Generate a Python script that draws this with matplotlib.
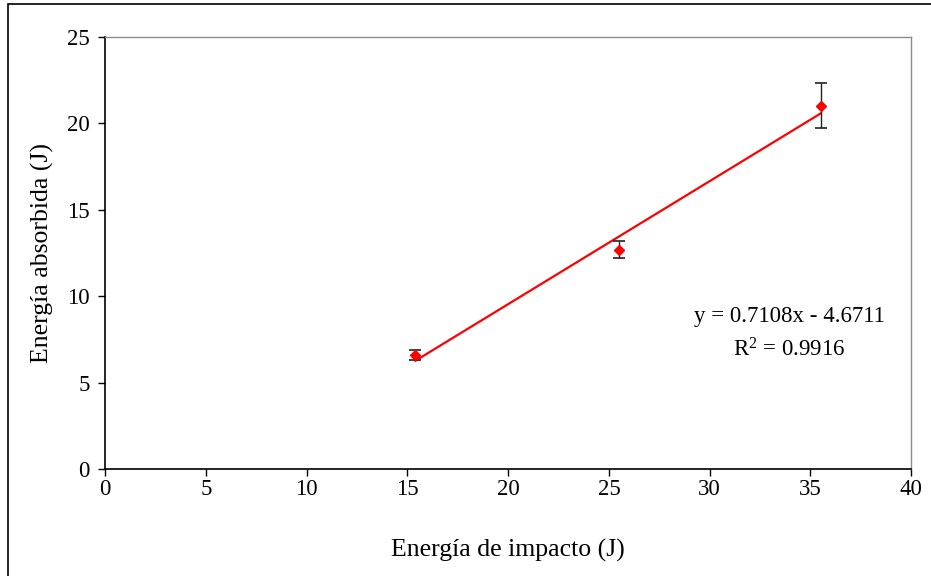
import numpy as np
import matplotlib.pyplot as plt
from matplotlib.patches import Rectangle

plt.rcParams['font.family'] = ['Liberation Serif', 'DejaVu Serif']

# impact energy, absorbed energy and error half-widths
impacto = [15.4, 25.5, 35.5]
absorbida = [6.6, 12.7, 21.0]
error = [0.3, 0.5, 1.3]

# trendline coefficients as printed on the chart
pendiente = 0.7108
ordenada = -4.6711
r2 = 0.9916

fig = plt.figure(figsize=(9.31, 5.76), dpi=100)
ax = fig.add_axes([0.1128, 0.1852, 0.866, 0.7511])

# outer chart border (extends past the image on the right and bottom)
fig.patches.append(Rectangle((8 / 931, -0.1), 1.2, 1.1 - 4 / 576,
                             transform=fig.transFigure, fill=False,
                             edgecolor='black', lw=1.2))

xt = np.array([impacto[0], impacto[-1]])
ax.plot(xt, pendiente * xt + ordenada, color='#ff0000', lw=1.6, zorder=2)
ax.errorbar(impacto, absorbida, yerr=error, fmt='D', color='#ff0000',
            markersize=5, ecolor='#222222', elinewidth=1.0, capsize=4,
            capthick=1.2, zorder=3)

ax.set_xlim(0, 40)
ax.set_ylim(0, 25)
ax.set_xticks(np.arange(0, 41, 5))
ax.set_yticks(np.arange(0, 26, 5))
ax.tick_params(direction='out', length=5, width=1, labelsize=16.5)
ax.tick_params(axis='x', pad=2)
ax.tick_params(axis='y', pad=6)

for s in ['left', 'bottom']:
    ax.spines[s].set_color('black')
    ax.spines[s].set_linewidth(1.2)
for s in ['top', 'right']:
    ax.spines[s].set_color('#8c8c8c')
    ax.spines[s].set_linewidth(1.0)

ax.set_xlabel('Energía de impacto (J)', fontsize=18.5, labelpad=28)
ax.set_ylabel('Energía absorbida (J)', fontsize=18.5, labelpad=9)

ax.text(0.849, 0.353, 'y = %.4fx - %.4f' % (pendiente, -ordenada),
        transform=ax.transAxes, ha='center', va='center', fontsize=16.5)
ax.text(0.849, 0.275, '$\\mathregular{R^2}$ = %.4f' % r2,
        transform=ax.transAxes, ha='center', va='center', fontsize=16.5)

fig.savefig('out.png', dpi=100)
